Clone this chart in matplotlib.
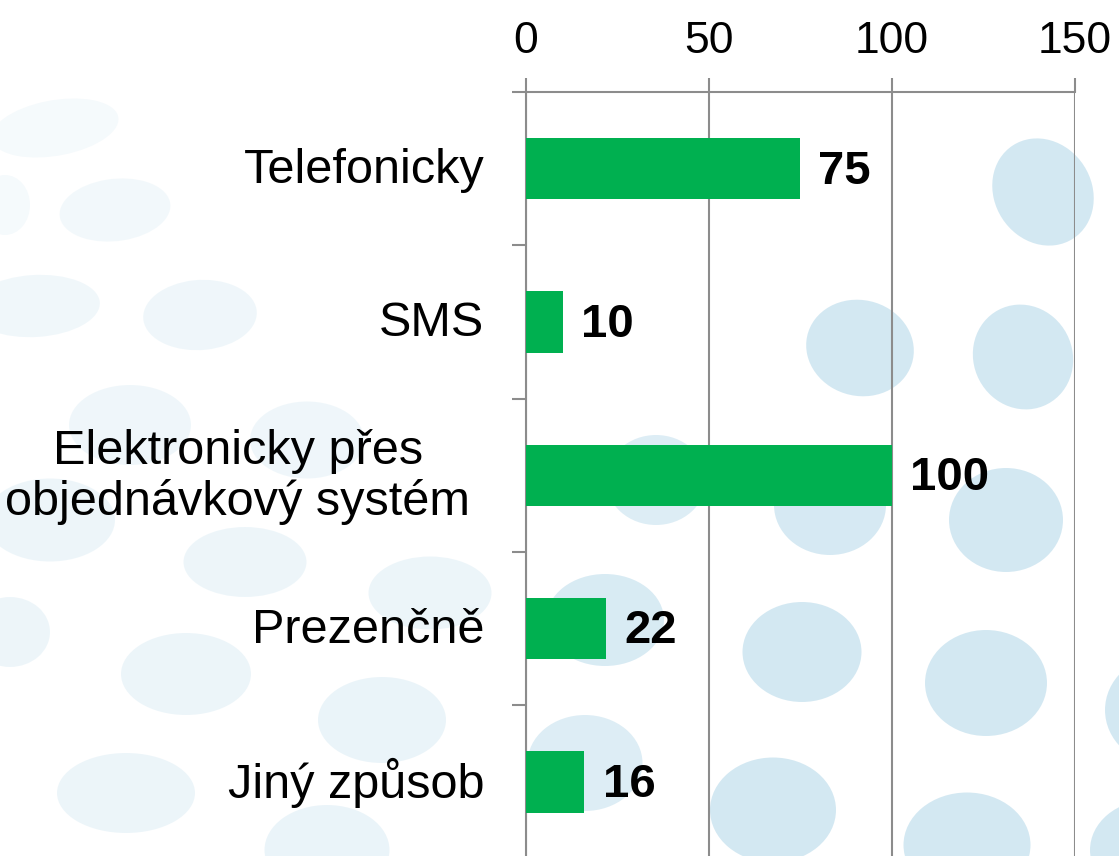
import matplotlib
matplotlib.use("Agg")
import matplotlib.pyplot as plt
from matplotlib.patches import Ellipse

CATEGORIES = [
    "Telefonicky",
    "SMS",
    "Elektronicky přes\nobjednávkový systém",
    "Prezenčně",
    "Jiný způsob",
]
VALUES = [75, 10, 100, 22, 16]
X_TICKS = [0, 50, 100, 150]

BAR_COLOR = "#00b050"
GRID_COLOR = "#8c8c8c"
SPOT_COLOR = "#cfe6f1"

# decorative background spots (pixel centre x, y, width, height, angle, alpha)
BG_SPOTS = [
    (1043, 192, 100, 108, 10, 0.9),
    (860, 348, 107, 97, 10, 0.9),
    (1023, 357, 100, 105, 5, 0.9),
    (656, 480, 100, 90, 0, 0.7),
    (830, 505, 112, 100, 0, 0.85),
    (1006, 520, 114, 104, 0, 0.9),
    (605, 620, 118, 92, 0, 0.8),
    (802, 652, 119, 100, 0, 0.9),
    (986, 683, 122, 106, 0, 0.9),
    (1165, 710, 120, 110, 0, 0.9),
    (585, 763, 115, 96, 0, 0.7),
    (773, 810, 126, 105, 0, 0.9),
    (967, 845, 127, 105, 0, 0.9),
    (1150, 850, 120, 100, 0, 0.9),
    (55, 128, 130, 55, 15, 0.2),
    (115, 210, 112, 62, 12, 0.25),
    (5, 205, 50, 60, 0, 0.2),
    (35, 306, 130, 62, 5, 0.3),
    (200, 315, 114, 70, 8, 0.32),
    (130, 425, 122, 80, 0, 0.32),
    (307, 440, 114, 77, 0, 0.32),
    (50, 520, 130, 83, 0, 0.36),
    (245, 562, 123, 70, 0, 0.36),
    (430, 593, 123, 73, 0, 0.38),
    (10, 632, 80, 70, 0, 0.36),
    (186, 674, 130, 82, 0, 0.38),
    (382, 720, 128, 86, 0, 0.42),
    (126, 793, 138, 80, 0, 0.38),
    (327, 850, 125, 90, 0, 0.42),
]

W, H = 1119, 856

plt.rcParams["font.family"] = ["Liberation Sans", "DejaVu Sans"]

fig = plt.figure(figsize=(W / 100, H / 100), dpi=100, facecolor="white")

for cx, cy, w, h, ang, alpha in BG_SPOTS:
    fig.add_artist(Ellipse((cx / W, 1 - cy / H), w / W, h / H, angle=ang,
                           transform=fig.transFigure, facecolor=SPOT_COLOR,
                           edgecolor="none", alpha=alpha, zorder=-5))

ax = fig.add_axes([0.470, -0.003, 0.4906, 0.8953])
ax.set_facecolor("none")

ypos = list(range(len(CATEGORIES)))
ax.barh(ypos, VALUES, height=0.4, color=BAR_COLOR, zorder=3)
for y, v in zip(ypos, VALUES):
    ax.annotate(f"{v}", (v, y), xytext=(13, -2), textcoords="offset points",
                va="center", ha="left", fontsize=34, fontweight="bold", color="black")

# category labels, the two-line one sits a bit further left
for y, label in zip(ypos, CATEGORIES):
    shift = -40 if "\n" in label else -30
    ax.annotate(label, (0, y), xycoords=ax.get_yaxis_transform(),
                xytext=(shift, -1), textcoords="offset points",
                ha="right", va="center", multialignment="center",
                fontsize=35, linespacing=1.15)

ax.set_xlim(0, 150)
ax.set_ylim(len(CATEGORIES) - 0.5, -0.5)
ax.set_xticks(X_TICKS)
ax.xaxis.tick_top()
ax.set_yticks([y - 0.5 for y in ypos])
ax.set_yticklabels([])
ax.tick_params(axis="y", length=10, width=1.5, color=GRID_COLOR, direction="out")
ax.tick_params(axis="x", length=10, width=1.5, color=GRID_COLOR, direction="out",
               labelsize=32, pad=12)

ax.grid(True, axis="x", color=GRID_COLOR, linewidth=1.5, zorder=1)
ax.set_axisbelow(True)
for side in ["right", "bottom"]:
    ax.spines[side].set_visible(False)
for side in ["left", "top"]:
    ax.spines[side].set_color(GRID_COLOR)
    ax.spines[side].set_linewidth(1.5)

fig.savefig("out.png", dpi=100)
